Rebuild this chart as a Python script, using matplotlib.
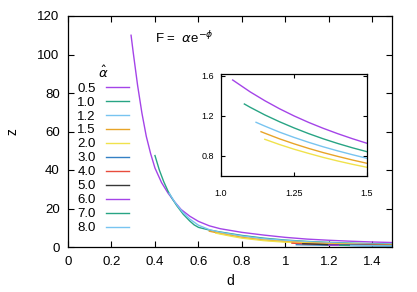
import matplotlib
matplotlib.use("Agg")
import matplotlib.pyplot as plt

plt.rcParams['font.family'] = ['Liberation Sans', 'DejaVu Sans']
plt.rcParams['mathtext.fontset'] = 'dejavusans'

# ---- data ----
alpha_labels = ["0.5", "1.0", "1.2", "1.5", "2.0", "3.0", "4.0", "5.0", "6.0", "7.0", "8.0"]
colors = ['#a444e8', '#28a484', '#78c4f0', '#e8a428', '#f0e24c', '#3480c4',
          '#e84c3c', '#383838', '#a444e8', '#28a484', '#78c4f0']

d_05 = [0.29, 0.30, 0.32, 0.34, 0.36, 0.38, 0.40, 0.43, 0.46, 0.49, 0.52, 0.56, 0.60, 0.65, 0.70,
        0.80, 0.90, 1.0, 1.1, 1.2, 1.3, 1.4, 1.5]
z_05 = [110, 101, 84, 69.5, 57.5, 48.5, 41, 33.5, 28, 23.5, 19.5, 16, 13.3, 11, 9.5,
        7.6, 6.2, 5.0, 4.1, 3.5, 3.0, 2.6, 2.3]
d_10 = [0.40, 0.42, 0.44, 0.46, 0.48, 0.50, 0.53, 0.56, 0.58, 0.60, 0.65, 0.70, 0.80, 0.90, 1.0,
        1.1, 1.2, 1.3, 1.4, 1.5]
z_10 = [47.5, 40, 34, 29, 25, 21.5, 17, 13.5, 11.5, 10.2, 8.8, 7.8, 6.0, 4.6, 3.6,
        2.9, 2.4, 2.0, 1.7, 1.45]
d_12 = [0.465, 0.49, 0.51, 0.53, 0.56, 0.60, 0.65, 0.70, 0.80, 0.90, 1.0, 1.1, 1.2, 1.3, 1.4, 1.5]
z_12 = [28, 23.5, 20.5, 17.8, 14.5, 11.3, 9.0, 7.6, 5.7, 4.3, 3.4, 2.7, 2.2, 1.8, 1.5, 1.3]
d_15 = [0.65, 0.70, 0.80, 0.90, 1.0, 1.1, 1.2, 1.3, 1.4, 1.5]
z_15 = [8.2, 7.0, 5.0, 3.6, 2.8, 2.2, 1.8, 1.5, 1.3, 1.1]
d_20 = [0.68, 0.75, 0.80, 0.90, 1.0, 1.1, 1.2, 1.3, 1.4, 1.5]
z_20 = [7.2, 5.6, 4.6, 3.3, 2.5, 2.0, 1.6, 1.3, 1.1, 0.95]
d_30 = [1.05, 1.2, 1.35, 1.5]
z_30 = [1.2, 0.9, 0.7, 0.6]
d_40 = [1.03, 1.1, 1.2, 1.3, 1.4, 1.5]
z_40 = [2.0, 1.6, 1.3, 1.1, 0.95, 0.85]
d_50 = [1.08, 1.2, 1.3, 1.4, 1.5]
z_50 = [1.7, 1.2, 1.0, 0.85, 0.75]
d_60 = [1.2, 1.35, 1.5]
z_60 = [1.0, 0.8, 0.65]
d_70 = [1.25, 1.4, 1.5]
z_70 = [0.9, 0.7, 0.6]
d_80 = [1.3, 1.4, 1.5]
z_80 = [0.8, 0.65, 0.55]

main_d = [d_05, d_10, d_12, d_15, d_20, d_30, d_40, d_50, d_60, d_70, d_80]
main_z = [z_05, z_10, z_12, z_15, z_20, z_30, z_40, z_50, z_60, z_70, z_80]

# inset series (first five alphas)
ins_d_05 = [1.04, 1.1, 1.15, 1.2, 1.25, 1.3, 1.35, 1.4, 1.45, 1.5]
ins_z_05 = [1.56, 1.441, 1.353, 1.273, 1.201, 1.136, 1.077, 1.023, 0.973, 0.927]
ins_d_10 = [1.08, 1.1, 1.15, 1.2, 1.25, 1.3, 1.35, 1.4, 1.45, 1.5]
ins_z_10 = [1.32, 1.287, 1.211, 1.143, 1.081, 1.024, 0.972, 0.925, 0.882, 0.843]
ins_d_12 = [1.12, 1.15, 1.2, 1.25, 1.3, 1.35, 1.4, 1.45, 1.5]
ins_z_12 = [1.137, 1.099, 1.039, 0.986, 0.937, 0.892, 0.851, 0.813, 0.777]
ins_d_15 = [1.137, 1.15, 1.2, 1.25, 1.3, 1.35, 1.4, 1.45, 1.5]
ins_z_15 = [1.043, 1.028, 0.972, 0.922, 0.876, 0.834, 0.796, 0.760, 0.727]
ins_d_20 = [1.15, 1.2, 1.25, 1.3, 1.35, 1.4, 1.45, 1.5]
ins_z_20 = [0.967, 0.915, 0.868, 0.826, 0.786, 0.750, 0.717, 0.687]
ins_d = [ins_d_05, ins_d_10, ins_d_12, ins_d_15, ins_d_20]
ins_z = [ins_z_05, ins_z_10, ins_z_12, ins_z_15, ins_z_20]

x_ticks = [0, 0.2, 0.4, 0.6, 0.8, 1.0, 1.2, 1.4]
x_tick_labels = ["0", "0.2", "0.4", "0.6", "0.8", "1", "1.2", "1.4"]
y_ticks = [0, 20, 40, 60, 80, 100, 120]
ins_x_ticks = [1.0, 1.25, 1.5]
ins_x_tick_labels = ["1.0", "1.25", "1.5"]
ins_y_ticks = [0.8, 1.2, 1.6]
ins_y_tick_labels = ["0.8", "1.2", "1.6"]

# ---- figure ----
W, H = 417, 292
fig = plt.figure(figsize=(W / 100, H / 100), dpi=100)
ax = fig.add_axes([68 / W, 1 - 247 / H, (392 - 68) / W, (247 - 16) / H])

for dd, zz, c, lab in zip(main_d, main_z, colors, alpha_labels):
    ax.plot(dd, zz, color=c, lw=1.0, label=lab)

ax.set_xlim(0, 1.49)
ax.set_ylim(0, 120)
ax.set_xticks(x_ticks)
ax.set_xticklabels(x_tick_labels)
ax.set_yticks(y_ticks)
ax.tick_params(direction='in', top=True, right=True, length=4, width=0.8,
               labelsize=9.5)
ax.tick_params(axis='x', pad=6.5)
ax.tick_params(axis='y', pad=6)
for s in ax.spines.values():
    s.set_linewidth(0.9)
    s.set_color('black')
ax.set_xlabel('d', fontsize=10, labelpad=4)
ax.set_ylabel('z', fontsize=10, labelpad=13)

leg = ax.legend(loc='upper left', bbox_to_anchor=(0.0, 0.83), frameon=False,
                markerfirst=False, handlelength=1.75, handletextpad=0.8,
                labelspacing=0.13, fontsize=9.5, title=r'$\hat{\alpha}$',
                title_fontsize=9.5, borderaxespad=0.3)

ax.text(0.27, 0.905, r'F =  $\alpha$e$^{-\phi}$', transform=ax.transAxes,
        fontsize=9.5, ha='left', va='center')

# ---- inset ----
axi = fig.add_axes([221 / W, 1 - 176 / H, (367 - 221) / W, (176 - 74) / H])
for dd, zz, c in zip(ins_d, ins_z, colors[:5]):
    axi.plot(dd, zz, color=c, lw=1.0)
axi.set_xlim(1.0, 1.5)
axi.set_ylim(0.6, 1.62)
axi.set_xticks(ins_x_ticks)
axi.set_xticklabels(ins_x_tick_labels)
axi.set_yticks(ins_y_ticks)
axi.set_yticklabels(ins_y_tick_labels)
axi.tick_params(direction='in', top=True, right=True, length=3, width=0.8,
                labelsize=6.5)
axi.tick_params(axis='x', pad=9)
axi.tick_params(axis='y', pad=5)
for s in axi.spines.values():
    s.set_linewidth(0.9)
    s.set_color('black')

fig.savefig('out.png', dpi=100)
